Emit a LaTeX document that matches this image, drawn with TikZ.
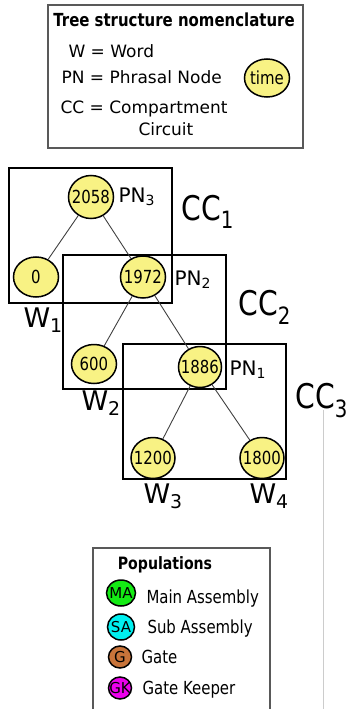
\documentclass[tikz,border=0pt]{standalone}
\usepackage{fontspec}
\setmainfont{DejaVu Sans}
\newfontfamily\narrowfont[FakeStretch=0.83]{DejaVu Sans}
\usetikzlibrary{shapes.geometric}

\definecolor{timeyellow}{RGB}{248,242,132}
\definecolor{maingreen}{RGB}{20,235,20}
\definecolor{subcyan}{RGB}{0,240,240}
\definecolor{gatebrown}{RGB}{200,116,58}
\definecolor{keepermagenta}{RGB}{238,0,238}

% zero-width text so the ellipse keeps its own size
\newcommand{\tval}[1]{\makebox[0pt]{#1}}

\tikzset{
    timenode/.style={ellipse, draw, line width=1.5pt, fill=timeyellow, minimum width=45pt,
        minimum height=42pt, inner sep=0pt, font=\narrowfont\fontsize{18}{18}\selectfont},
    popnode/.style={ellipse, draw, line width=1.5pt, inner sep=0pt, font=\fontsize{15}{15}\selectfont},
    ccbox/.style={draw, line width=1.8pt},
    legendbox/.style={draw=black!65, line width=1.6pt},
    treeedge/.style={draw=black!75, line width=0.9pt}
}

\begin{document}
\begin{tikzpicture}[x=1pt, y=-1pt]
    \useasboundingbox (0,0) rectangle (351,709);

    % Nomenclature legend
    \draw[legendbox] (48,5) rectangle (303,148);
    \node[anchor=base, font=\narrowfont\bfseries\fontsize{18}{18}\selectfont] (nomtitle) at (174,27) {Tree structure nomenclature};
    \node[anchor=base west, font=\fontsize{17}{17}\selectfont] (nomw) at (65,57) {W = Word};
    \node[anchor=base west, font=\fontsize{17}{17}\selectfont] (nompn) at (58,84) {PN = Phrasal Node};
    \node[anchor=base west, font=\fontsize{17}{17}\selectfont] (nomcc) at (57,113) {CC = Compartment};
    \node[anchor=base west, font=\fontsize{17}{17}\selectfont] (nomcirc) at (135,135) {Circuit};
    \node[timenode, minimum width=45pt, minimum height=38pt] (nomtime) at (267,78) {\tval{time}};

    % Compartment circuits
    \draw[ccbox] (9,168) rectangle (172,303);
    \draw[ccbox] (63,255) rectangle (226,389);
    \draw[ccbox] (123,344) rectangle (286,479);

    % Tree nodes
    \node[timenode, minimum height=43pt] (pn3) at (91,197) {\tval{2058}};
    \node[timenode, minimum height=40pt] (w1) at (36,277) {\tval{0}};
    \node[timenode] (pn2) at (143,277) {\tval{1972}};
    \node[timenode, minimum height=39pt] (w2) at (94,364) {\tval{600}};
    \node[timenode, minimum width=43pt, minimum height=41pt] (pn1) at (200,367) {\tval{1886}};
    \node[timenode, minimum width=44pt, minimum height=41pt] (w3) at (153,458) {\tval{1200}};
    \node[timenode, minimum width=44pt, minimum height=41pt] (w4) at (262,458) {\tval{1800}};

    % Branches
    \draw[treeedge] (pn3) -- (w1);
    \draw[treeedge] (pn3) -- (pn2);
    \draw[treeedge] (pn2) -- (w2);
    \draw[treeedge] (pn2) -- (pn1);
    \draw[treeedge] (pn1) -- (w3);
    \draw[treeedge] (pn1) -- (w4);

    % Tree labels
    \node[anchor=base west, font=\fontsize{20}{20}\selectfont] (lpn3) at (115,202) {PN\textsubscript{3}};
    \node[anchor=base west, font=\fontsize{20}{20}\selectfont] (lpn2) at (171,285) {PN\textsubscript{2}};
    \node[anchor=base west, font=\fontsize{20}{20}\selectfont] (lpn1) at (226,375) {PN\textsubscript{1}};
    \node[anchor=base west, font=\narrowfont\fontsize{34}{34}\selectfont] (lcc1) at (178,220) {CC\textsubscript{1}};
    \node[anchor=base west, font=\narrowfont\fontsize{34}{34}\selectfont] (lcc2) at (235,315) {CC\textsubscript{2}};
    \node[anchor=base west, font=\narrowfont\fontsize{34}{34}\selectfont] (lcc3) at (292,408) {CC\textsubscript{3}};
    \node[anchor=base west, font=\fontsize{27}{27}\selectfont] (lw1) at (20,327) {W\textsubscript{1}};
    \node[anchor=base west, font=\fontsize{27}{27}\selectfont] (lw2) at (78,410) {W\textsubscript{2}};
    \node[anchor=base west, font=\fontsize{27}{27}\selectfont] (lw3) at (140,503) {W\textsubscript{3}};
    \node[anchor=base west, font=\fontsize{27}{27}\selectfont] (lw4) at (246,503) {W\textsubscript{4}};

    % Thin guide line
    \coordinate (guidetop) at (323,410);
    \coordinate (guidebottom) at (323,709);
    \draw[black!20, line width=0.8pt] (guidetop) -- (guidebottom);

    % Populations legend
    \draw[legendbox] (93,709) -- (93,548) -- (270,548) -- (270,709);
    \node[anchor=base, font=\narrowfont\bfseries\fontsize{17}{17}\selectfont] (poptitle) at (165,569) {Populations};
    \node[popnode, fill=maingreen, minimum width=29pt, minimum height=26pt] (popma) at (121,593) {\tval{MA}};
    \node[popnode, fill=subcyan, minimum width=27pt, minimum height=26pt] (popsa) at (121,627) {\tval{SA}};
    \node[popnode, fill=gatebrown, minimum width=23pt, minimum height=22pt] (popg) at (120,657) {\tval{G}};
    \node[popnode, fill=keepermagenta, minimum width=23pt, minimum height=22pt] (popgk) at (120,688) {\tval{GK}};
    \node[anchor=base west, font=\narrowfont\fontsize{18}{18}\selectfont] (popmatext) at (143,603) {Main Assembly};
    \node[anchor=base west, font=\narrowfont\fontsize{18}{18}\selectfont] (popsatext) at (144,633) {Sub Assembly};
    \node[anchor=base west, font=\narrowfont\fontsize{18}{18}\selectfont] (popgtext) at (138,663) {Gate};
    \node[anchor=base west, font=\narrowfont\fontsize{18}{18}\selectfont] (popgktext) at (139,694) {Gate Keeper};
\end{tikzpicture}
\end{document}
